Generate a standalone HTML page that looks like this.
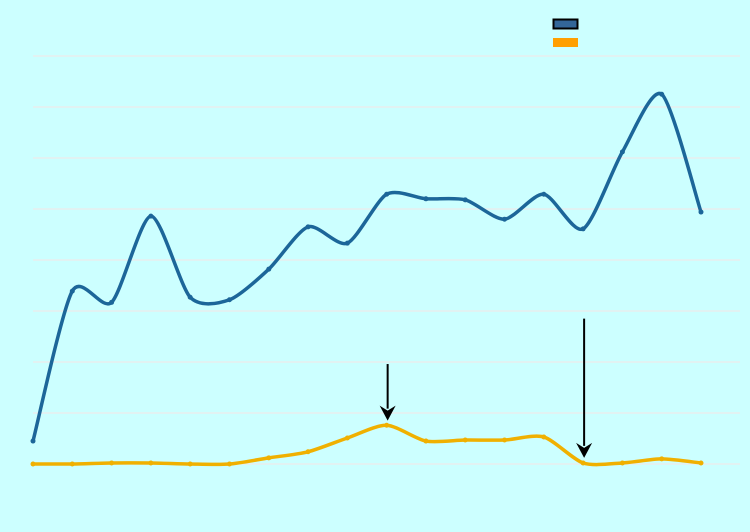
<!DOCTYPE html>
<html><head><meta charset="utf-8"><style>
html,body{margin:0;padding:0;background:#ccffff;}
svg{display:block;font-family:"Liberation Sans",sans-serif;}
</style></head><body>
<svg id="chart" width="750" height="532">
<rect x="0" y="0" width="750" height="532" fill="#ccffff"/>
<g id="grid"></g>
<g id="series"></g>
<g>
<rect x="553.5" y="19.5" width="24" height="9" fill="#336699" stroke="#000" stroke-width="2"/>
<rect x="553" y="38" width="25" height="9" fill="#ff9f00"/>
</g>
<g id="arrows"></g>
</svg>
<script>
const categories = [1,2,3,4,5,6,7,8,9,10,11,12,13,14,15,16,17,18];
const seriesBlue = [4.5,33.9,31.7,48.6,32.7,32.2,38.2,46.5,43.3,52.9,52,51.8,48,52.9,46.1,61.2,72.5,49.4];
const seriesOrange = [0,0,0.2,0.2,0,0,1.2,2.4,5.1,7.6,4.5,4.7,4.7,5.3,0.2,0.2,1,0.2];
const gridTicks = [0,10,20,30,40,50,60,70,80];
const annotations = [{i:9, from:19.6, to:8.5},{i:14, from:28.5, to:1.2}];

const x = i => 33 + i*(701-33)/(categories.length-1);
const y = v => 464 - v*(464-56)/80;
const NS = "http://www.w3.org/2000/svg";
const grid = document.getElementById('grid');
gridTicks.forEach(t=>{
  const l=document.createElementNS(NS,'line');
  l.setAttribute('x1',33);l.setAttribute('x2',740);
  l.setAttribute('y1',y(t));l.setAttribute('y2',y(t));
  l.setAttribute('stroke','#e8eeee');l.setAttribute('stroke-width','1.5');
  
  
  grid.appendChild(l);
});
function path(vals){
  const p=vals.map((v,i)=>[x(i),y(v)]);
  let d=`M${p[0][0]},${p[0][1]}`;
  const t=0.38;
  for(let i=0;i<p.length-1;i++){
    const p0=p[i-1]||p[i],p1=p[i],p2=p[i+1],p3=p[i+2]||p[i+1];
    const c1=[p1[0]+(p2[0]-p0[0])*t/3,p1[1]+(p2[1]-p0[1])*t/3];
    const c2=[p2[0]-(p3[0]-p1[0])*t/3,p2[1]-(p3[1]-p1[1])*t/3];
    d+=` C${c1[0]},${c1[1]} ${c2[0]},${c2[1]} ${p2[0]},${p2[1]}`;
  }
  return d;
}
const sg=document.getElementById('series');
[[seriesBlue,'#1c6699','blue'],[seriesOrange,'#f0b000','orange']].forEach(([vals,col,nm])=>{
  const pa=document.createElementNS(NS,'path');
  pa.setAttribute('d',path(vals));pa.setAttribute('fill','none');
  pa.setAttribute('stroke',col);pa.setAttribute('stroke-width','3.5');
  
  
  sg.appendChild(pa);
  vals.forEach((v,i)=>{
    const c=document.createElementNS(NS,'circle');
    c.setAttribute('cx',x(i));c.setAttribute('cy',y(v));c.setAttribute('r',2.5);c.setAttribute('fill',col);
    
    
    sg.appendChild(c);
  });
});
const ag=document.getElementById('arrows');
annotations.forEach(a=>{
  const xx=x(a.i)+1, y1=y(a.from), y2=y(a.to);
  const l=document.createElementNS(NS,'line');
  l.setAttribute('x1',xx);l.setAttribute('x2',xx);l.setAttribute('y1',y1);l.setAttribute('y2',y2-12);
  l.setAttribute('stroke','#000');l.setAttribute('stroke-width','2');
  
  
  ag.appendChild(l);
  const h=document.createElementNS(NS,'path');
  h.setAttribute('d',`M${xx-8},${y2-15} L${xx},${y2} L${xx+8},${y2-15} L${xx},${y2-10}Z`);
  h.setAttribute('fill','#000');
  
  
  ag.appendChild(h);
});
</script>
</body></html>
